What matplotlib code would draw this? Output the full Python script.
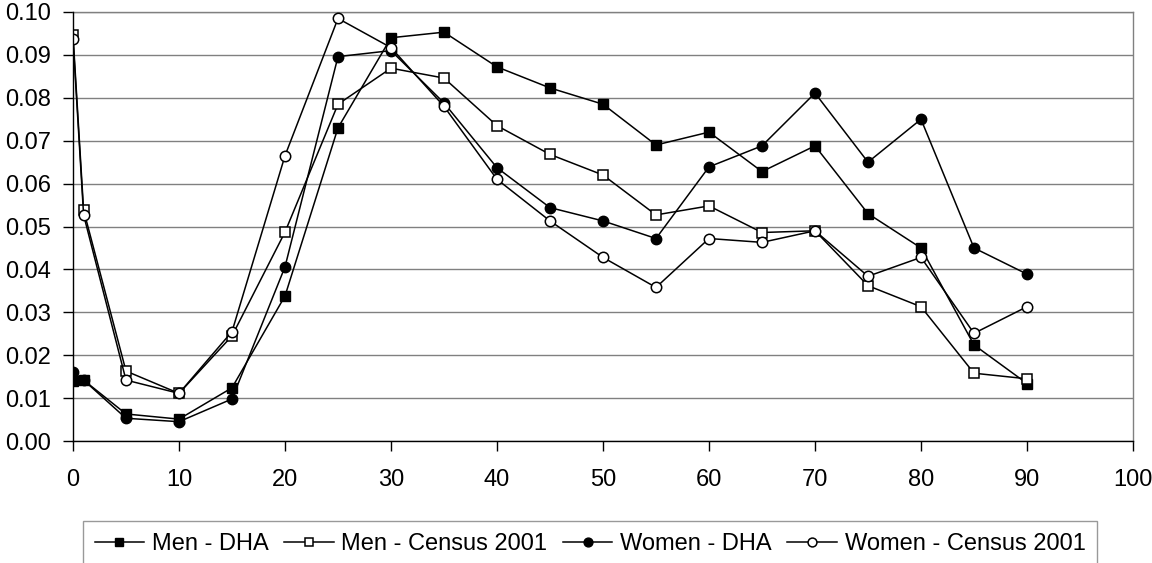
import matplotlib
matplotlib.use("Agg")
import matplotlib.pyplot as plt

plt.rcParams['font.family'] = ['Liberation Sans', 'DejaVu Sans']

# age groups and the four rate series
ages = [0, 1, 5, 10, 15, 20, 25, 30, 35, 40, 45, 50, 55, 60, 65, 70, 75, 80, 85, 90]

men_dha = [0.0140, 0.0142, 0.0063, 0.0051, 0.0124, 0.0338, 0.0730, 0.0940, 0.0953, 0.0872,
           0.0823, 0.0785, 0.0690, 0.0720, 0.0628, 0.0688, 0.0530, 0.0450, 0.0224, 0.0134]
men_census = [0.0946, 0.0538, 0.0163, 0.0111, 0.0245, 0.0487, 0.0785, 0.0869, 0.0846, 0.0735,
              0.0668, 0.0620, 0.0527, 0.0548, 0.0486, 0.0490, 0.0362, 0.0313, 0.0158, 0.0145]
women_dha = [0.0160, 0.0142, 0.0053, 0.0045, 0.0098, 0.0406, 0.0896, 0.0910, 0.0788, 0.0637,
             0.0544, 0.0513, 0.0472, 0.0639, 0.0688, 0.0811, 0.0650, 0.0750, 0.0450, 0.0389]
women_census = [0.0937, 0.0527, 0.0142, 0.0111, 0.0255, 0.0665, 0.0985, 0.0917, 0.0780, 0.0610,
                0.0513, 0.0428, 0.0358, 0.0472, 0.0463, 0.0490, 0.0384, 0.0428, 0.0251, 0.0313]

labels = ['Men - DHA', 'Men - Census 2001', 'Women - DHA', 'Women - Census 2001']

fig = plt.figure(figsize=(11.52, 5.63), dpi=100)
ax = fig.add_axes([73 / 1152, 1 - 441 / 563, 1060 / 1152, 429 / 563])

ms = 7.5
ax.plot(ages, men_dha, color='black', lw=1.1, marker='s', ms=ms, mfc='black', mec='black', label=labels[0], zorder=3)
ax.plot(ages, men_census, color='black', lw=1.1, marker='s', ms=ms, mfc='white', mec='black', mew=1.1, label=labels[1], zorder=3)
ax.plot(ages, women_dha, color='black', lw=1.1, marker='o', ms=ms, mfc='black', mec='black', label=labels[2], zorder=3)
ax.plot(ages, women_census, color='black', lw=1.1, marker='o', ms=ms, mfc='white', mec='black', mew=1.1, label=labels[3], zorder=3)

ax.set_xlim(0, 100)
ax.set_ylim(0, 0.10)
ax.set_xticks(range(0, 101, 10))
ax.set_yticks([i / 100 for i in range(11)])
ax.yaxis.set_major_formatter(matplotlib.ticker.FormatStrFormatter('%.2f'))
ax.tick_params(axis='x', direction='out', length=7, width=1, pad=13, labelsize=17)
ax.tick_params(axis='y', direction='out', length=7, width=1, pad=9, labelsize=17)

ax.grid(axis='y', color='#808080', lw=1)
ax.set_axisbelow(True)
for s in ['left', 'bottom']:
    ax.spines[s].set_color('black')
    ax.spines[s].set_linewidth(1)
for s in ['top', 'right']:
    ax.spines[s].set_color('#808080')
    ax.spines[s].set_linewidth(1)
ax.spines['left'].set_zorder(4)
ax.spines['bottom'].set_zorder(4)

leg = fig.legend(loc='upper center', bbox_to_anchor=(590 / 1152, 1 - 521 / 563), ncol=4,
                 fontsize=17, frameon=True, fancybox=False, edgecolor='#808080',
                 handlelength=2.1, handletextpad=0.33, columnspacing=0.65,
                 borderpad=0.5, borderaxespad=0, markerscale=0.85)
leg.get_frame().set_linewidth(1)

fig.savefig('out.png', dpi=100)
